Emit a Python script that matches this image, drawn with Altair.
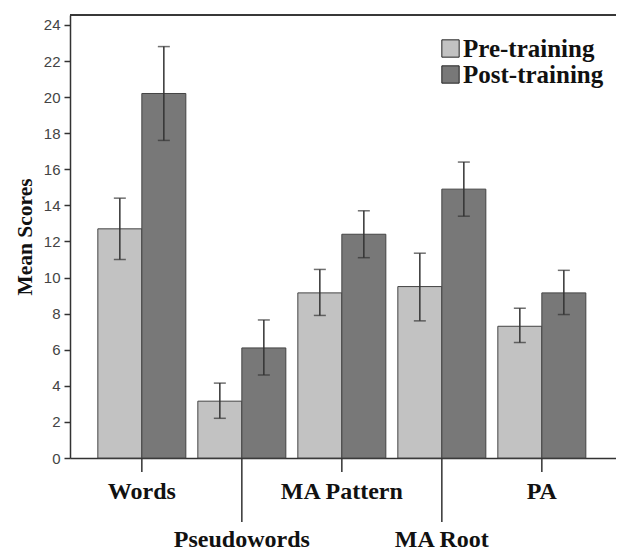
import altair as alt
import pandas as pd

categories = ["Words", "Pseudowords", "MA Pattern", "MA Root", "PA"]
series = ["Pre-training", "Post-training"]
pre_mean = [12.7, 3.15, 9.15, 9.5, 7.3]
pre_lo = [11.0, 2.2, 7.9, 7.6, 6.4]
pre_hi = [14.4, 4.15, 10.45, 11.35, 8.3]
post_mean = [20.2, 6.1, 12.4, 14.9, 9.15]
post_lo = [17.6, 4.6, 11.1, 13.4, 7.95]
post_hi = [22.8, 7.65, 13.7, 16.4, 10.4]
y_ticks = list(range(0, 25, 2))

rows = []
for i, c in enumerate(categories):
    rows.append({"cat": c, "series": series[0], "mean": pre_mean[i], "lo": pre_lo[i], "hi": pre_hi[i]})
    rows.append({"cat": c, "series": series[1], "mean": post_mean[i], "lo": post_lo[i], "hi": post_hi[i]})
df = pd.DataFrame(rows)
lab_df = pd.DataFrame({"cat": categories})

W, H = 546, 443
DARK = "#333333"
SERIF = "Liberation Serif"

xscale = alt.Scale(domain=categories, paddingInner=0.12, paddingOuter=0.29, align=0.48)
xaxis = alt.Axis(labels=False, ticks=False, title=None, domainColor=DARK, domainWidth=1.5)
xoff = alt.XOffset("series:N", sort=series,
                   scale=alt.Scale(domain=series, paddingInner=0, paddingOuter=0))
yscale = alt.Scale(domain=[0, 24.55], nice=False, zero=True)
yaxis = alt.Axis(values=y_ticks, tickCount=13, title="Mean Scores", titleFont=SERIF,
                 titleFontSize=21.5, titleFontWeight="bold", titleColor="#111",
                 titlePadding=7, labelFont="Liberation Sans", labelFontSize=15,
                 labelColor="#444", tickSize=6, tickColor=DARK, tickWidth=1.5,
                 labelPadding=4, labelOverlap=False, labelFlush=False,
                 domainColor=DARK, domainWidth=1.5, grid=False)

def X():
    return alt.X("cat:N", scale=xscale, sort=categories, axis=xaxis)

def Y(field):
    return alt.Y(field, scale=yscale, axis=yaxis, title="Mean Scores")

base = alt.Chart(df)

bars = base.mark_bar(stroke="#444444", strokeWidth=1).encode(
    x=X(),
    xOffset=xoff,
    y=Y("mean:Q"),
    fill=alt.Fill("series:N", sort=series,
                  scale=alt.Scale(domain=series, range=["#c2c2c2", "#787878"]),
                  legend=alt.Legend(title=None, orient="none", legendX=368, legendY=21,
                                    symbolType="square", symbolSize=300,
                                    symbolStrokeColor="#222", symbolStrokeWidth=1,
                                    labelFont=SERIF, labelFontSize=25, labelFontWeight="bold",
                                    labelColor="#111", labelOffset=0, rowPadding=-2,
                                    labelLimit=300)),
)

err = base.mark_rule(color=DARK, strokeWidth=1.5).encode(
    x=X(), xOffset=xoff, y=Y("lo:Q"), y2="hi:Q")
cap_hi = base.mark_tick(color=DARK, thickness=1.5, size=12).encode(
    x=X(), xOffset=xoff, y=Y("hi:Q"))
cap_lo = base.mark_tick(color=DARK, thickness=1.5, size=12).encode(
    x=X(), xOffset=xoff, y=Y("lo:Q"))

top_line = alt.Chart(lab_df).mark_rule(color=DARK, strokeWidth=1.2).encode(
    x=alt.value(0), x2=alt.value(W), y=alt.value(0))

lab = alt.Chart(lab_df)
first_row = categories[0::2]
second_row = categories[1::2]
tick1 = lab.transform_filter(alt.FieldOneOfPredicate(field="cat", oneOf=first_row)).mark_rule(
    color=DARK, strokeWidth=1.5).encode(x=X(), y=alt.value(H), y2=alt.value(H + 14))
tick2 = lab.transform_filter(alt.FieldOneOfPredicate(field="cat", oneOf=second_row)).mark_rule(
    color=DARK, strokeWidth=1.5).encode(x=X(), y=alt.value(H), y2=alt.value(H + 64))
text1 = lab.transform_filter(alt.FieldOneOfPredicate(field="cat", oneOf=first_row)).mark_text(
    font=SERIF, fontSize=24, fontWeight="bold", color="#111", baseline="middle").encode(
    x=X(), y=alt.value(H + 34), text="cat:N")
text2 = lab.transform_filter(alt.FieldOneOfPredicate(field="cat", oneOf=second_row)).mark_text(
    font=SERIF, fontSize=24, fontWeight="bold", color="#111", baseline="middle").encode(
    x=X(), y=alt.value(H + 82), text="cat:N")

chart = alt.layer(bars, err, cap_hi, cap_lo, top_line, tick1, tick2, text1, text2).properties(
    width=W, height=H, autosize="none",
    padding={"left": 62, "top": 7, "right": 0, "bottom": 94},
).configure_view(stroke=None).configure(background="white")

chart.save("out.html", embed_options={"renderer": "svg", "actions": False})
